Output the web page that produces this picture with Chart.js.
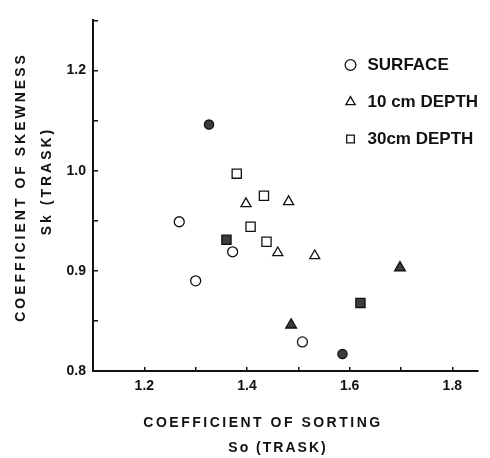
<!DOCTYPE html>
<html>
<head>
<meta charset="utf-8">
<script src="https://cdn.jsdelivr.net/npm/chart.js@4/dist/chart.umd.min.js"></script>
<style>
  html, body { margin: 0; padding: 0; background: #ffffff; }
  #wrap { width: 490px; height: 458px; position: relative; }
</style>
</head>
<body>
<div id="wrap"><canvas id="c" width="490" height="458"></canvas></div>
<script>
// ---- data ----
const seriesNames = ['SURFACE', '10 cm DEPTH', '30cm DEPTH'];

const surfaceOpenX   = [1.268, 1.372, 1.300, 1.508];
const surfaceOpenY   = [0.949, 0.919, 0.890, 0.829];
const surfaceFilledX = [1.326, 1.586];
const surfaceFilledY = [1.046, 0.817];

const depth10OpenX   = [1.398, 1.481, 1.460, 1.532];
const depth10OpenY   = [0.967, 0.969, 0.918, 0.915];
const depth10FilledX = [1.698, 1.486];
const depth10FilledY = [0.903, 0.846];

const depth30OpenX   = [1.380, 1.433, 1.407, 1.438];
const depth30OpenY   = [0.997, 0.975, 0.944, 0.929];
const depth30FilledX = [1.360, 1.621];
const depth30FilledY = [0.931, 0.868];

const xTickValues = [1.2, 1.4, 1.6, 1.8];
const xTickLabels = ['1.2', '1.4', '1.6', '1.8'];
const yTickValues = [0.8, 0.9, 1.0, 1.1];
const yTickLabels = ['0.8', '0.9', '1.0', '1.2'];

const xTitleLines = ['COEFFICIENT OF SORTING', 'So (TRASK)'];
const yTitleLines = ['COEFFICIENT OF SKEWNESS', 'Sk (TRASK)'];

// ---- helpers ----
const toPoints = (xs, ys) => xs.map((x, i) => ({ x: x, y: ys[i] }));
const labelFor = (values, labels, v) => {
  for (let i = 0; i < values.length; i++) {
    if (Math.abs(values[i] - v) < 1e-6) return labels[i];
  }
  return '';
};

const FONT = '"Liberation Sans", Arial, Helvetica, sans-serif';
const INK = '#111111';
const FILL_DARK = '#3c3c3c';

const axisTitlePlugin = {
  id: 'axisTitles',
  afterDraw(chart) {
    const ctx = chart.ctx;
    ctx.save();
    ctx.fillStyle = INK;
    ctx.textAlign = 'center';
    ctx.textBaseline = 'middle';
    ctx.font = 'bold 14px ' + FONT;
    // x title
    ctx.letterSpacing = '2.5px';
    ctx.fillText(xTitleLines[0], 263, 423);
    ctx.letterSpacing = '2px';
    ctx.fillText(xTitleLines[1], 278, 448);
    // y title (rotated)
    ctx.letterSpacing = '3px';
    ctx.save();
    ctx.translate(21, 187);
    ctx.rotate(-Math.PI / 2);
    ctx.fillText(yTitleLines[0], 0, 0);
    ctx.restore();
    ctx.save();
    ctx.translate(47, 181);
    ctx.rotate(-Math.PI / 2);
    ctx.fillText(yTitleLines[1], 0, 0);
    ctx.restore();
    ctx.restore();
  }
};

const legendPlacePlugin = {
  id: 'legendPlace',
  afterLayout(chart) {
    const lg = chart.legend;
    if (!lg) return;
    lg.left = 322;
    lg.right = 489;
    lg.top = 36.5;
    lg.bottom = 260;
    lg.width = lg.right - lg.left;
    lg.height = lg.bottom - lg.top;
  }
};

const openStyle = (style, r) => ({
  pointStyle: style, pointRadius: r, pointHoverRadius: r,
  backgroundColor: '#ffffff', borderColor: INK, borderWidth: 1.3
});
const filledStyle = (style, r) => ({
  pointStyle: style, pointRadius: r, pointHoverRadius: r,
  backgroundColor: FILL_DARK, borderColor: INK, borderWidth: 1.3
});

const chart = new Chart(document.getElementById('c'), {
  type: 'scatter',
  data: {
    datasets: [
      Object.assign({ label: seriesNames[0], data: toPoints(surfaceOpenX, surfaceOpenY) }, openStyle('circle', 5)),
      Object.assign({ label: seriesNames[1], data: toPoints(depth10OpenX, depth10OpenY) }, openStyle('triangle', 5.8)),
      Object.assign({ label: seriesNames[2], data: toPoints(depth30OpenX, depth30OpenY) }, openStyle('rect', 6.5)),
      Object.assign({ label: seriesNames[0] + ' (filled)', data: toPoints(surfaceFilledX, surfaceFilledY) }, filledStyle('circle', 4.6)),
      Object.assign({ label: seriesNames[1] + ' (filled)', data: toPoints(depth10FilledX, depth10FilledY) }, filledStyle('triangle', 6.2)),
      Object.assign({ label: seriesNames[2] + ' (filled)', data: toPoints(depth30FilledX, depth30FilledY) }, filledStyle('rect', 6.5))
    ]
  },
  options: {
    responsive: false,
    animation: false,
    events: [],
    clip: false,
    layout: { padding: { left: 0, right: 12, top: 11, bottom: 0 } },
    scales: {
      x: {
        type: 'linear',
        position: 'bottom',
        min: 1.1,
        max: 1.85,
        afterFit(scale) { scale.height = 87; },
        border: { display: true, color: INK, width: 2 },
        grid: { display: true, drawOnChartArea: false, drawTicks: true, tickLength: -4, color: INK, lineWidth: 1.5 },
        ticks: {
          stepSize: 0.1,
          includeBounds: false,
          padding: 11,
          maxRotation: 0,
          autoSkip: false,
          color: INK,
          font: { family: FONT, size: 14, weight: 'bold' },
          callback: (v) => labelFor(xTickValues, xTickLabels, v)
        },
        title: { display: false }
      },
      y: {
        type: 'linear',
        position: 'left',
        min: 0.8,
        max: 1.15,
        afterFit(scale) { scale.width = 93; },
        border: { display: true, color: INK, width: 2 },
        grid: { display: true, drawOnChartArea: false, drawTicks: true, tickLength: -5, color: INK, lineWidth: 1.5 },
        ticks: {
          stepSize: 0.05,
          padding: 12,
          autoSkip: false,
          color: INK,
          font: { family: FONT, size: 14, weight: 'bold' },
          callback: (v) => labelFor(yTickValues, yTickLabels, v)
        },
        title: { display: false }
      }
    },
    plugins: {
      tooltip: { enabled: false },
      legend: {
        display: true,
        position: 'chartArea',
        align: 'start',
        labels: {
          usePointStyle: true,
          boxHeight: 7.6,
          padding: 20,
          color: INK,
          font: { family: FONT, size: 17, weight: 'bold' },
          filter: (item) => item.datasetIndex < 3
        }
      }
    }
  },
  plugins: [axisTitlePlugin, legendPlacePlugin]
});
</script>
</body>
</html>
